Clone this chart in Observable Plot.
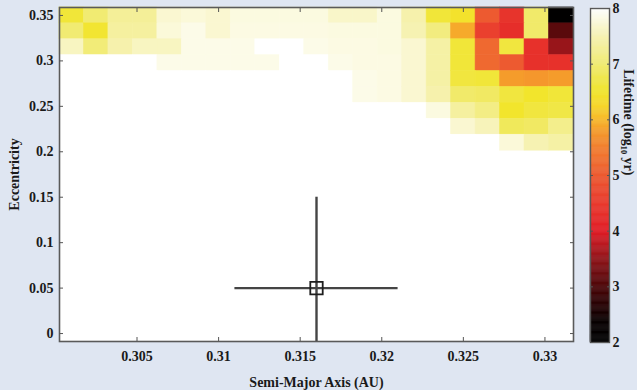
<!DOCTYPE html>
<html><head><meta charset="utf-8">
<script src="https://cdn.jsdelivr.net/npm/d3@7"></script>
<script src="https://cdn.jsdelivr.net/npm/@observablehq/plot@0.6"></script>
<style>
html,body{margin:0;padding:0;background:#dfe6f2;}
#wrap{position:relative;width:637px;height:390px;overflow:hidden;background:#dfe6f2;}
#wrap svg{position:absolute;top:0;}
</style></head><body><div id="wrap"></div>
<script>
// Grid of semi-major axis values (AU), cell centres
const semiMajorAxis = [0.301, 0.3025, 0.304, 0.3055, 0.307, 0.3085, 0.31, 0.3115, 0.313, 0.3145, 0.316, 0.3175, 0.319, 0.3205, 0.322, 0.3235, 0.325, 0.3265, 0.328, 0.3295, 0.331];
// Eccentricity rows that are not fully stable (top of the grid), cell centres
const eccentricityRows = [0.35, 0.3325, 0.315, 0.2975, 0.28, 0.2625, 0.245, 0.2275, 0.21];
// Lifetime (log10 yr) per row (8 = stable / white)
const lifetime = [
 [6.6,7.0,7.3,7.3,7.7,7.75,7.7,7.8,7.8,7.8,7.8,7.65,7.65,7.8,7.45,6.6,6.45,5.0,4.4,6.95,2.05],
 [7.0,6.55,7.35,7.35,7.75,7.85,7.7,7.82,7.82,7.82,7.82,7.8,7.8,7.8,7.5,7.1,5.9,4.6,4.3,6.95,3.1],
 [7.6,7.05,7.45,7.6,7.6,7.85,7.85,7.85,8,8,7.85,7.82,7.82,7.8,7.7,7.4,6.6,5.2,6.65,4.35,3.55],
 [8,8,8,8,7.85,7.85,7.85,7.85,7.85,8,8,7.85,7.82,7.82,7.7,7.4,6.6,5.2,5.0,4.35,4.35],
 [8,8,8,8,8,8,8,8,8,8,8,8,7.85,7.82,7.7,7.4,6.65,6.6,5.8,5.75,5.8],
 [8,8,8,8,8,8,8,8,8,8,8,8,7.85,7.82,7.7,7.45,6.95,6.9,6.65,6.5,6.6],
 [8,8,8,8,8,8,8,8,8,8,8,8,8,8,8,7.8,7.35,7.15,6.5,6.65,6.7],
 [8,8,8,8,8,8,8,8,8,8,8,8,8,8,8,8,7.7,7.55,6.85,6.9,7.2],
 [8,8,8,8,8,8,8,8,8,8,8,8,8,8,8,8,8,8,7.75,7.5,7.4]
];
// Planet estimate with error bars
const planetA = [0.316];
const planetE = [0.05];
const planetAErr = [0.005];
const planetEErr = [0.1];

const xTicks = [0.305, 0.31, 0.315, 0.32, 0.325, 0.33];
const xTickLabels = ["0.305", "0.31", "0.315", "0.32", "0.325", "0.33"];
const yTicks = [0, 0.05, 0.1, 0.15, 0.2, 0.25, 0.3, 0.35];
const yTickLabels = ["0", "0.05", "0.1", "0.15", "0.2", "0.25", "0.3", "0.35"];
const colorTicks = [2, 3, 4, 5, 6, 7, 8];
const colorTickLabels = ["2", "3", "4", "5", "6", "7", "8"];
const colorStops = [2, 2.4, 3, 3.5, 4, 4.5, 5, 5.5, 5.8, 6, 6.25, 6.5, 6.75, 7, 7.5, 8];
const colorStopColors = ["#000000", "#0a0000", "#4c0709", "#901419", "#e11d26", "#e93a2d", "#ed5a30", "#f27f2f", "#f59c2b", "#f7b82a", "#f6d62a", "#f2e52c", "#f0e74c", "#f1eb72", "#f6f2b2", "#ffffff"];

const cells = [];
eccentricityRows.forEach((e, j) => lifetime[j].forEach((v, i) => cells.push({a: semiMajorAxis[i], e, v})));
const halfA = (semiMajorAxis[1] - semiMajorAxis[0]) / 2;
const halfE = (eccentricityRows[0] - eccentricityRows[1]) / 2;
const planet = planetA.map((a, i) => ({a, e: planetE[i], aErr: planetAErr[i], eErr: planetEErr[i]}));

const colorScale = {type: "linear", domain: colorStops, range: colorStopColors, clamp: true};
const font = "'Liberation Serif', 'Times New Roman', 'DejaVu Serif', serif";
const axisColor = "#555";

const main = Plot.plot({
  width: 637, height: 390,
  marginLeft: 59, marginRight: 64, marginTop: 7, marginBottom: 49,
  style: {background: "transparent", fontFamily: font, fontSize: "14px", fontWeight: "bold", color: "#1a1a1a"},
  x: {domain: [semiMajorAxis[0] - halfA, semiMajorAxis[semiMajorAxis.length - 1] + halfA]},
  y: {domain: [-halfE, eccentricityRows[0] + halfE]},
  color: colorScale,
  marks: [
    Plot.frame({fill: "white"}),
    Plot.rect(cells, {x1: d => d.a - halfA, x2: d => d.a + halfA, y1: d => d.e - halfE, y2: d => d.e + halfE, fill: "v", stroke: "v", strokeWidth: 0.6}),
    Plot.ruleY(planet, {y: "e", x1: d => d.a - d.aErr, x2: d => d.a + d.aErr, stroke: "#454545", strokeWidth: 2.4, clip: true}),
    Plot.ruleX(planet, {x: "a", y1: d => d.e - d.eErr, y2: d => d.e + d.eErr, stroke: "#454545", strokeWidth: 2.4, clip: true}),
    Plot.dot(planet, {x: "a", y: "e", symbol: "square", r: 7, stroke: "#1e1e1e", strokeWidth: 1.8, fill: "none"}),
    Plot.frame({stroke: "#5a5a5a", strokeWidth: 1.6}),
    Plot.axisX({anchor: "bottom", ticks: xTicks, tickFormat: d => xTickLabels[xTicks.indexOf(d)], tickSize: -4, tickPadding: 14, stroke: axisColor, label: "Semi-Major Axis (AU)", labelAnchor: "center", labelArrow: "none", labelOffset: 45}),
    Plot.axisX({anchor: "top", ticks: xTicks, tickSize: -4, fill: "none", stroke: axisColor, label: null}),
    Plot.axisY({anchor: "left", ticks: yTicks, tickFormat: d => yTickLabels[yTicks.indexOf(d)], tickSize: -4, tickPadding: 10, stroke: axisColor, label: "Eccentricity", labelAnchor: "center", labelArrow: "none", labelOffset: 50}),
    Plot.axisY({anchor: "right", ticks: yTicks, tickSize: -4, fill: "none", stroke: axisColor, label: null})
  ]
});
main.style.left = "0px";
document.getElementById("wrap").appendChild(main);

const barStep = 0.02;
const legend = Plot.plot({
  width: 52, height: 390,
  marginLeft: 5, marginRight: 28, marginTop: 8, marginBottom: 48,
  style: {background: "transparent", fontFamily: font, fontSize: "14px", fontWeight: "bold", color: "#1a1a1a"},
  y: {domain: [colorTicks[0], colorTicks[colorTicks.length - 1]]},
  color: colorScale,
  marks: [
    Plot.rect(d3.range(colorTicks[0], colorTicks[colorTicks.length - 1], barStep), {y1: d => d, y2: d => d + barStep, fill: d => d + barStep / 2, stroke: d => d + barStep / 2, strokeWidth: 0.5}),
    Plot.frame({stroke: "#5a5a5a", strokeWidth: 1.4}),
    Plot.axisY({anchor: "right", ticks: colorTicks, tickFormat: d => colorTickLabels[colorTicks.indexOf(d)], tickSize: -3, tickPadding: 6, stroke: axisColor, label: null}),
    Plot.axisY({anchor: "left", ticks: colorTicks, tickSize: -3, fill: "none", stroke: axisColor, label: null}),
    Plot.text(["Lifetime (log\u2081\u2080 yr)"], {text: d => d, frameAnchor: "right", dx: 19, rotate: 90, fontSize: 14, fill: "#1a1a1a"})
  ]
});
legend.style.left = "585px";
document.getElementById("wrap").appendChild(legend);
</script>
</body></html>
